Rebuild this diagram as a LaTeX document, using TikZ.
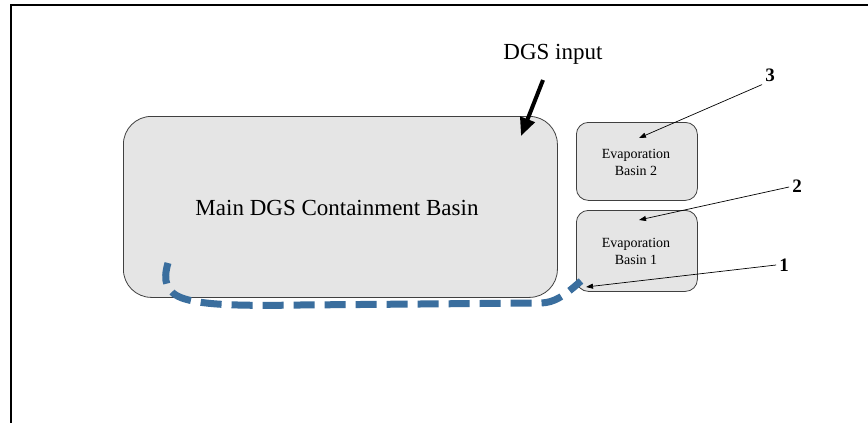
\documentclass[tikz,border=0pt]{standalone}
\usepackage{fontspec}
\setmainfont{Liberation Serif}
\usetikzlibrary{arrows.meta}
\begin{document}
\begin{tikzpicture}[x=1pt,y=-1pt,
  basin/.style={draw=black!75,fill=gray!20,line width=0.8pt},
  thinarrow/.style={draw=black,line width=0.7pt,-{Triangle[length=7pt,width=5pt]}},
  numlabel/.style={font=\fontsize{19}{21}\selectfont\bfseries,inner sep=1pt}]
\useasboundingbox (0,0) rectangle (868,423);
\fill[white] (0,0) rectangle (868,423);
\draw[line width=2.4pt] (11,423) -- (11,5) -- (868,5);
% basins
\node[basin,rounded corners=28pt,minimum width=434pt,minimum height=181pt,anchor=north west] (main) at (123,116) {};
\node[font=\fontsize{23}{26}\selectfont] (maintext) at (337,208) {Main DGS Containment Basin};
\node[basin,rounded corners=12pt,minimum width=121pt,minimum height=78pt,anchor=north west] (eb2) at (576,122) {};
\node[font=\fontsize{14}{17}\selectfont,align=center] (eb2text) at (636,162) {Evaporation\\Basin 2};
\node[basin,rounded corners=12pt,minimum width=121pt,minimum height=81pt,anchor=north west] (eb1) at (576,210) {};
\node[font=\fontsize{14}{17}\selectfont,align=center] (eb1text) at (636,251) {Evaporation\\Basin 1};
% DGS input
\node[font=\fontsize{23}{26}\selectfont] (dgs) at (553,54) {DGS input};
\coordinate (dgstip) at (521,136);
\draw[line width=4pt,-{Triangle[length=18pt,width=15pt]}] (543,80) -- (dgstip);
% numbered labels
\node[numlabel] (l3) at (770,75) {3};
\node[numlabel] (l2) at (797,186) {2};
\node[numlabel] (l1) at (784,265) {1};
\coordinate (t3) at (639,138);
\coordinate (t2) at (639,220);
\coordinate (t1) at (586,287);
\draw[thinarrow] (l3.south west) ++(-2,2) -- (t3);
\draw[thinarrow] (l2.west) ++(-2,1) -- (t2);
\draw[thinarrow] (l1.west) ++(-2,0) -- (t1);
% dashed path
\coordinate (ds) at (168,263);
\coordinate (de) at (581,281);
\draw[draw={rgb,255:red,58;green,110;blue,158},line width=7pt,dash pattern=on 21pt off 10pt]
  (ds) .. controls (163,280) and (165,293) .. (185,299)
  .. controls (205,305) and (240,306) .. (300,305)
  -- (540,303) .. controls (555,303) and (565,295) .. (de);
\end{tikzpicture}
\end{document}
